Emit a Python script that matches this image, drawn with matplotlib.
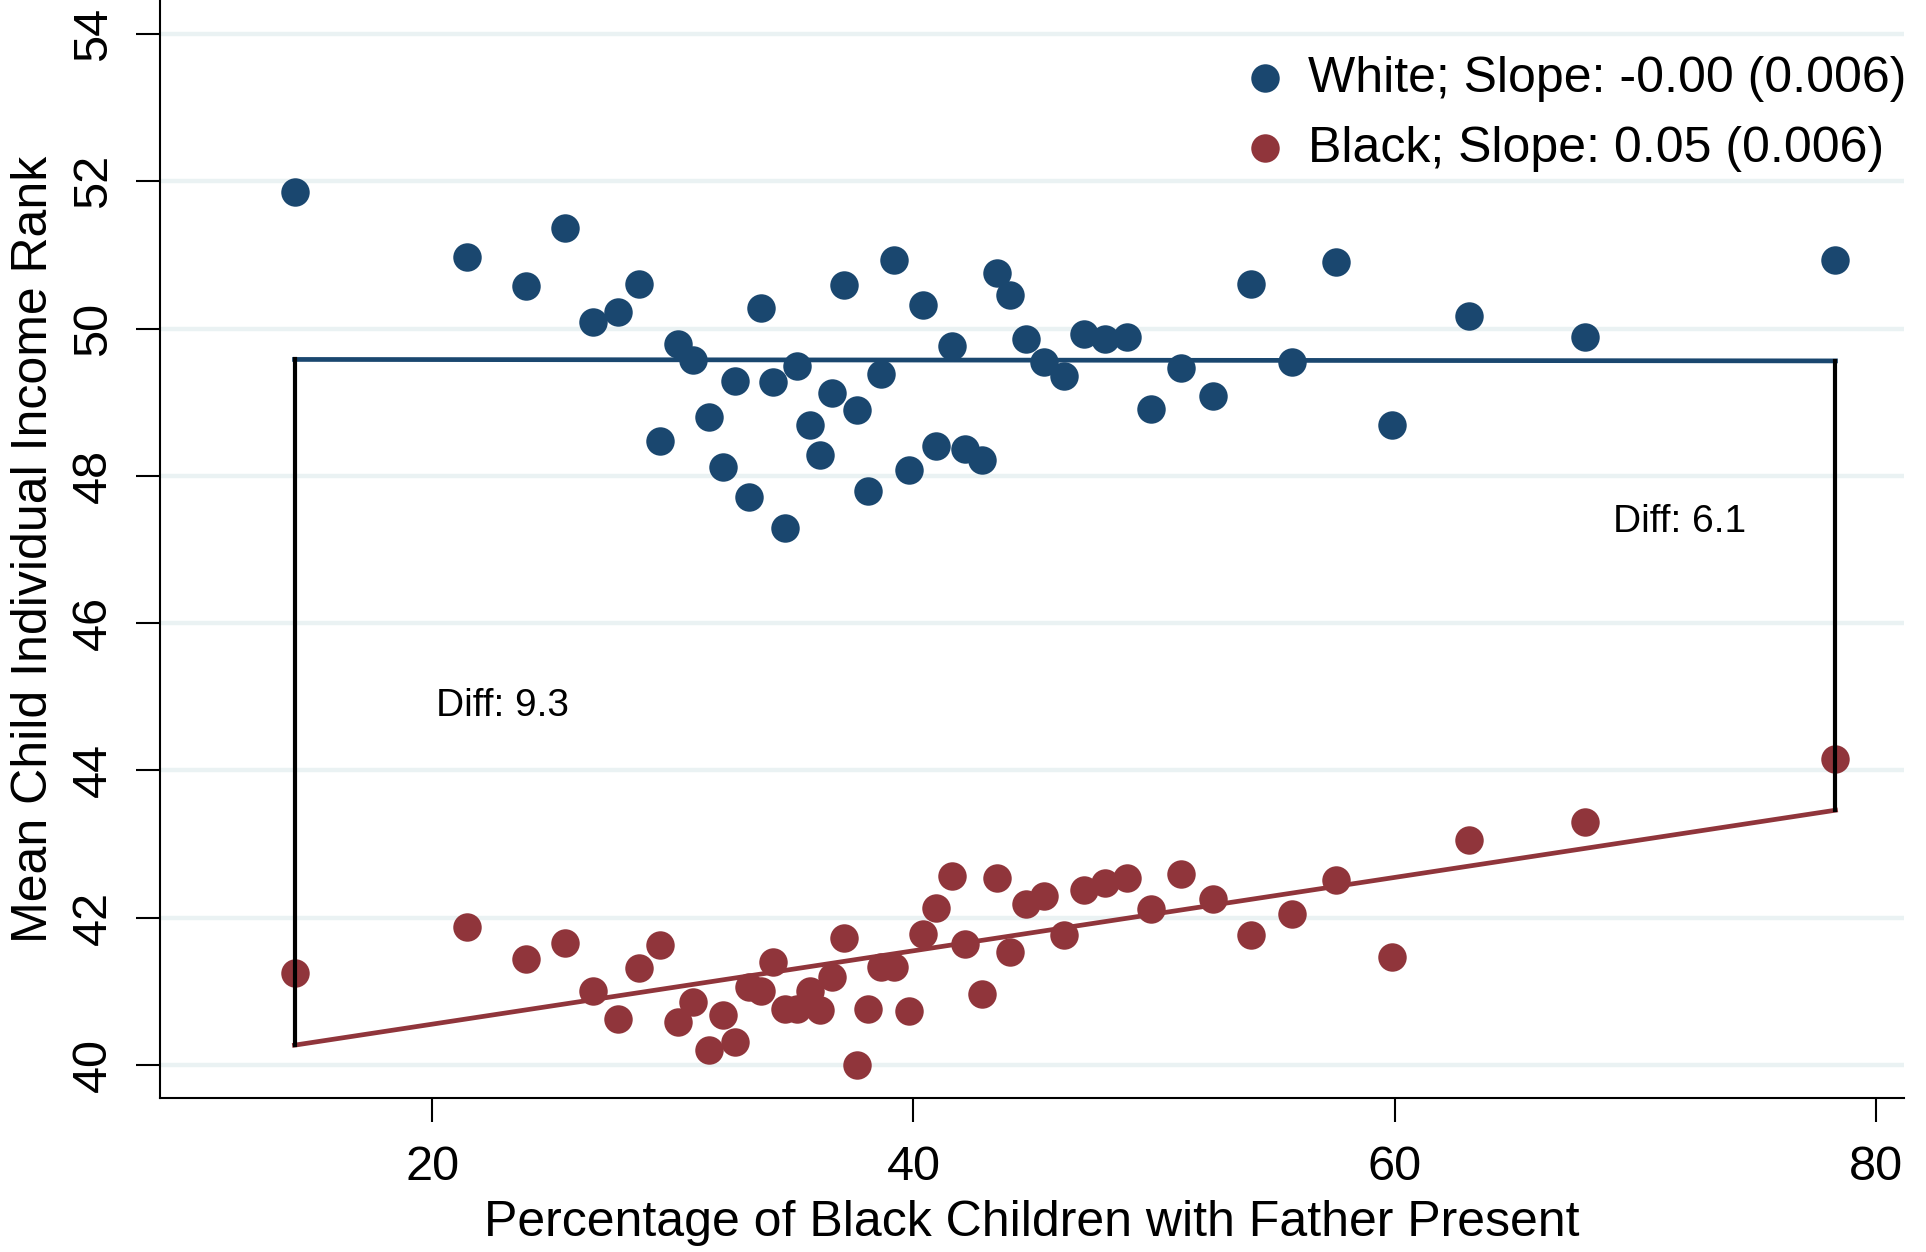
import matplotlib
matplotlib.use('Agg')
import matplotlib.pyplot as plt

plt.rcParams['font.family'] = ['Liberation Sans', 'DejaVu Sans']

# percentage of black children with father present (same areas for both groups)
father_present = [14.27, 21.46, 23.91, 25.51, 26.66, 27.73, 28.59, 29.47, 30.21, 30.83,
                  31.52, 32.07, 32.58, 33.15, 33.67, 34.15, 34.65, 35.16, 35.68, 36.13,
                  36.62, 37.11, 37.67, 38.13, 38.63, 39.19, 39.80, 40.41, 40.93, 41.60,
                  42.15, 42.83, 43.48, 44.03, 44.69, 45.42, 46.27, 47.08, 47.95, 48.87,
                  49.86, 51.13, 52.47, 54.03, 55.73, 57.55, 59.89, 63.08, 67.92, 78.33]

white_rank = [51.85, 50.97, 50.58, 51.37, 50.09, 50.23, 50.61, 48.47, 49.79, 49.57,
              48.80, 48.12, 49.29, 47.71, 50.28, 49.28, 47.29, 49.49, 48.69, 48.28,
              49.12, 50.59, 48.90, 47.79, 49.38, 50.93, 48.08, 50.32, 48.41, 49.76,
              48.36, 48.22, 50.76, 50.46, 49.86, 49.55, 49.35, 49.92, 49.86, 49.88,
              48.91, 49.47, 49.08, 50.61, 49.54, 50.90, 48.69, 50.17, 49.89, 50.93]

black_rank = [41.25, 41.88, 41.44, 41.66, 41.00, 40.62, 41.32, 41.63, 40.59, 40.85,
              40.20, 40.68, 40.31, 41.06, 41.00, 41.40, 40.76, 40.76, 41.00, 40.75,
              41.19, 41.73, 40.00, 40.76, 41.33, 41.33, 40.74, 41.78, 42.13, 42.56,
              41.65, 40.96, 42.54, 41.53, 42.18, 42.29, 41.76, 42.38, 42.47, 42.54,
              42.12, 42.59, 42.25, 41.76, 42.05, 42.51, 41.47, 43.06, 43.30, 44.15]

# fitted lines at the lowest and highest x
fit_x = [14.27, 78.33]
white_fit = [49.58, 49.56]
black_fit = [40.27, 43.46]

labels = ['White; Slope: -0.00 (0.006)', 'Black; Slope: 0.05 (0.006)']
diff_labels = ['Diff: 9.3', 'Diff: 6.1']
diff_pos = [(20.15, 44.74), (69.08, 47.24)]

navy = '#1a476f'
maroon = '#90353b'

fig = plt.figure(figsize=(19.26, 12.52), dpi=100)
ax = fig.add_axes([0.0831, 0.1232, 0.9055, 0.8768])

ax.scatter(father_present, white_rank, s=420, color=navy, linewidths=0, zorder=2, label=labels[0])
ax.scatter(father_present, black_rank, s=420, color=maroon, linewidths=0, zorder=2, label=labels[1])

ax.plot(fit_x, white_fit, color=navy, lw=3.4, zorder=3)
ax.plot(fit_x, black_fit, color=maroon, lw=3.4, zorder=3)
for i in range(2):
    ax.plot([fit_x[i], fit_x[i]], [black_fit[i], white_fit[i]], color='black', lw=3.0, zorder=4)

for txt, (tx, ty) in zip(diff_labels, diff_pos):
    ax.text(tx, ty, txt, fontsize=28, ha='left', va='baseline')

ax.set_xlim(8.68, 81.18)
ax.set_ylim(39.556, 54.46)
ax.set_xticks([20, 40, 60, 80])
ax.set_yticks(range(40, 55, 2))
ax.grid(axis='y', color='#eaf2f3', lw=3.2)
ax.set_axisbelow(True)

for side in ['top', 'right']:
    ax.spines[side].set_visible(False)
for side in ['left', 'bottom']:
    ax.spines[side].set_linewidth(1.5)

ax.tick_params(axis='both', length=17, width=1.5, direction='out', labelsize=35)
ax.tick_params(axis='x', pad=17)
ax.tick_params(axis='y', pad=15)
for lab in ax.get_yticklabels():
    lab.set_rotation(90)
    lab.set_va('center')

ax.set_xlabel('Percentage of Black Children with Father Present', fontsize=36, labelpad=7)
ax.set_ylabel('Mean Child Individual Income Rank', fontsize=36, labelpad=10)

ax.legend(loc='upper left', bbox_to_anchor=(0.6438, 0.9556), bbox_transform=fig.transFigure,
          frameon=False, fontsize=36, handlelength=1, handletextpad=0.36,
          borderpad=0, borderaxespad=0, labelspacing=0.48, markerscale=1.0)

fig.savefig('out.png', dpi=100)
